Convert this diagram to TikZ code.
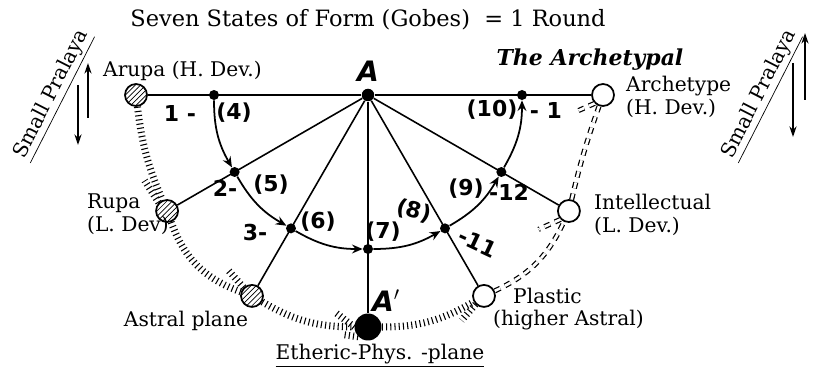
\documentclass[tikz,border=0pt]{standalone}
\usepackage{fontspec}
\setmainfont{DejaVu Serif}
\newfontfamily\handfont{DejaVu Sans}
\usetikzlibrary{arrows.meta,patterns}

\begin{document}
\begin{tikzpicture}[x=0.02cm,y=0.02cm,font=\fontsize{11.5}{13}\selectfont,
  dot/.style={circle,fill,inner sep=0pt,minimum size=0.2cm},
  hatchball/.style={circle,draw,line width=1pt,pattern=north east lines,inner sep=0pt,minimum size=0.44cm},
  openball/.style={circle,draw,line width=1pt,fill=white,inner sep=0pt,minimum size=0.44cm},
  spoke/.style={line width=0.9pt},
  flow/.style={line width=1pt,-{Stealth[length=6pt,width=5pt]}},
  hand/.style={font=\handfont\bfseries\fontsize{12.5}{14}\selectfont},
  bigA/.style={font=\handfont\itshape\bfseries\fontsize{16}{17}\selectfont},
  ticks/.style={line width=4pt,dash pattern=on 0.6pt off 1.8pt},
  dashes/.style={line width=0.7pt,double distance=1.5pt,dash pattern=on 3.5pt off 3pt},
  pralaya/.style={line width=1.3pt,-{Stealth[length=6pt,width=4pt]}}]

  \useasboundingbox (-368,95) rectangle (450,-273);

  \node[font=\fontsize{12.8}{14}\selectfont] (title) at (0,75) {Seven States of Form (Gobes)\ \ = 1 Round};
  \node[font=\fontsize{12.5}{14}\selectfont\itshape\bfseries] (archtitle) at (222,35) {The Archetypal};

  % the round
  \node[dot,minimum size=0.25cm] (A) at (0,0) {};
  \node[dot] (n4) at (180:154) {};
  \node[dot] (n2) at (210:154) {};
  \node[dot] (n3) at (240:154) {};
  \node[dot] (n7) at (270:154) {};
  \node[dot] (n11) at (300:154) {};
  \node[dot] (n12) at (330:154) {};
  \node[dot] (n10) at (0:154) {};

  % the seven states
  \node[hatchball] (arupa) at (180:232) {};
  \node[hatchball] (rupa) at (210:232) {};
  \node[hatchball] (astral) at (240:232) {};
  \node[dot,minimum size=0.54cm] (aprime) at (270:232) {};
  \node[openball] (plastic) at (300:232) {};
  \node[openball] (intel) at (330:232) {};
  \node[openball] (archetype) at (0:235) {};

  \foreach \s in {arupa,rupa,astral,aprime,plastic,intel,archetype}
    \draw[spoke] (A) -- (\s);

  \draw[flow] (n4) to[bend right=15] (n2);
  \draw[flow] (n2) to[bend right=15] (n3);
  \draw[flow] (n3) to[bend right=15] (n7);
  \draw[flow] (n7) to[bend right=15] (n11);
  \draw[flow] (n11) to[bend right=15] (n12);
  \draw[flow] (n12) to[bend right=15] (n10);

  % shadow of the descent and the ascent
  \draw[ticks] (arupa) to[bend right=8] (rupa);
  \draw[ticks] (rupa) to[bend right=25] (astral);
  \draw[ticks] (astral) to[bend right=15] (aprime);
  \draw[ticks] (aprime) to[bend right=15] (plastic);
  \draw[dashes] (plastic) to[bend right=20] (intel);
  \draw[dashes] (intel) to[bend left=3] (archetype);
  \draw[ticks] (rupa.north west) -- ++(-14,22);
  \draw[ticks] (astral.north west) -- ++(-16,18);
  \draw[ticks] (aprime.west) -- ++(-18,14);
  \draw[ticks] (aprime.south west) -- ++(-14,2);
  \draw[ticks] (plastic.south west) -- ++(-14,-16);
  \draw[dashes] (intel.south west) -- ++(-22,-10);
  \draw[dashes] (archetype.south west) -- ++(-18,-8);

  % labels
  \node[bigA] (Alab) at (0,24) {A};
  \node[bigA] (Aplab) at (18,-206) {A$'$};
  \node[hand] (l1) at (-188,-18) {1 -};
  \node[hand] (l4) at (-134,-18) {(4)};
  \node[hand] (l2) at (-143,-93) {2-};
  \node[hand] (l5) at (-97,-90) {(5)};
  \node[hand] (l3) at (-113,-138) {3-};
  \node[hand] (l6) at (-50,-127) {(6)};
  \node[hand] (l7) at (15,-137) {(7)};
  \node[hand,rotate=-15] (l8) at (46,-116) {(8)};
  \node[hand] (l9) at (98,-94) {(9)};
  \node[hand] (l12) at (141,-97) {-12};
  \node[hand,rotate=-25] (l11) at (110,-148) {-11};
  \node[hand] (l10) at (124,-15) {(10)};
  \node[hand] (l1b) at (178,-15) {- 1};

  \node[anchor=west] (arupalab) at (-271,24) {Arupa (H. Dev.)};
  \node[anchor=west,align=left] (rupalab) at (-287,-119) {Rupa\\(L. Dev)};
  \node (astrallab) at (-182,-226) {Astral plane};
  \node (ethericlab) at (12,-261) {\underline{Etheric-Phys. -plane}};
  \node[anchor=west,align=left] (plasticlab) at (119,-214) {\hspace*{0.4cm}Plastic\\(higher Astral)};
  \node[anchor=west,align=left] (intellab) at (220,-120) {Intellectual\\(L. Dev.)};
  \node[anchor=west,align=left] (archlab) at (252,-2) {Archetype\\(H. Dev.)};

  % small pralaya
  \node[rotate=63,font=\fontsize{11.5}{13}\selectfont] (prleft) at (-315,0) {\underline{Small Pralaya}};
  \node[rotate=63,font=\fontsize{11.5}{13}\selectfont] (prright) at (393,0) {\underline{Small Pralaya}};
  \coordinate (lu0) at (-280,-23);
  \coordinate (lu1) at (-280,32);
  \coordinate (ld0) at (-290,10);
  \coordinate (ld1) at (-290,-50);
  \coordinate (ru0) at (437,-5);
  \coordinate (ru1) at (437,62);
  \coordinate (rd0) at (425,32);
  \coordinate (rd1) at (425,-42);
  \draw[pralaya] (lu0) -- (lu1);
  \draw[pralaya] (ld0) -- (ld1);
  \draw[pralaya] (ru0) -- (ru1);
  \draw[pralaya] (rd0) -- (rd1);
\end{tikzpicture}
\end{document}
